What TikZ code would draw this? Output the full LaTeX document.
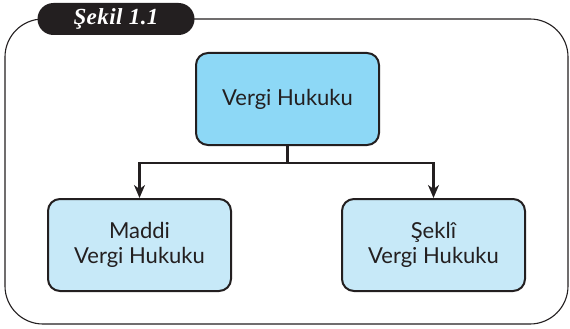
\documentclass[tikz,border=0pt]{standalone}
\usepackage{fontspec}
\setmainfont{Lato}
\newfontfamily\tabfont[LetterSpace=2]{Liberation Serif}
\usetikzlibrary{arrows.meta,positioning}
\definecolor{ink}{HTML}{231F20}
\definecolor{topblue}{HTML}{8DD8F6}
\definecolor{subblue}{HTML}{C7E9F8}

\begin{document}
\begin{tikzpicture}[x=1pt,y=-1pt,
    box/.style={draw=ink, line width=2pt, rounded corners=12pt, text=ink, align=center,
      minimum width=183pt, minimum height=92pt, font=\fontsize{22}{25}\selectfont},
    link/.style={draw=ink, line width=2.2pt, -{Stealth[length=13pt,width=11pt,inset=4pt]}},
  ]
  \useasboundingbox (0,0) rectangle (570,329);
  % outer frame and title tab
  \draw[ink, line width=1.1pt, rounded corners=38pt] (5,19) rectangle (568,324);
  \node[fill=ink, rounded corners=16pt, minimum width=157pt, minimum height=32pt, text=white,
    font=\tabfont\bfseries\itshape\fontsize{23}{28}\selectfont] (tab) at (116,19) {Şekil 1.1};

  % boxes
  \node[box, fill=topblue] (vh) at (287.5,99) {Vergi Hukuku};
  \node[box, fill=subblue] (maddi) at (139.5,245) {Maddi\\Vergi Hukuku};
  \node[box, fill=subblue] (sekli) at (433.5,245) {Şeklî\\Vergi Hukuku};

  % branches
  \coordinate (split) at (287.5,163);
  \draw[ink, line width=3pt] (vh.south) -- (split);
  \foreach \target in {maddi,sekli}
    \draw[link] (split) -| (\target.north);
\end{tikzpicture}
\end{document}
